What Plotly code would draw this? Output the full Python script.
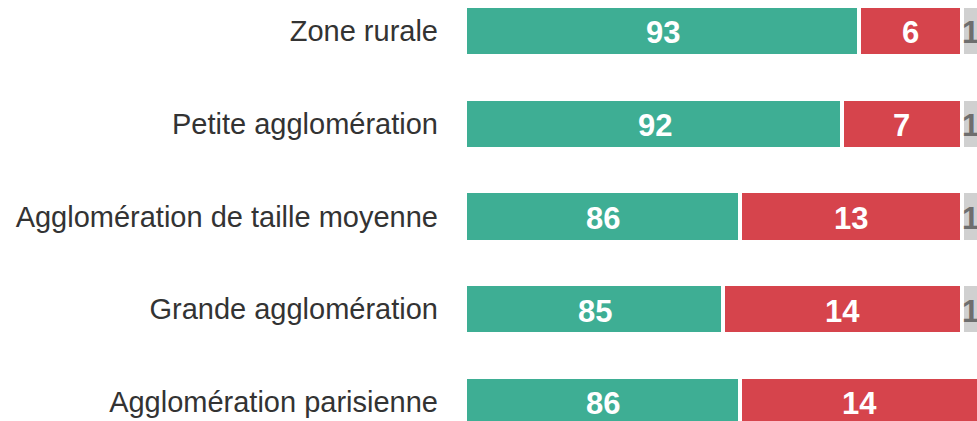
import plotly.graph_objects as go

# Data
categories = [
    "Zone rurale",
    "Petite agglomération",
    "Agglomération de taille moyenne",
    "Grande agglomération",
    "Agglomération parisienne",
]
favorable = [93, 92, 86, 85, 86]
defavorable = [6, 7, 13, 14, 14]
nsp = [1, 1, 1, 1, 0]

X_MIN, X_MAX = 70, 99.9

GREEN = "#3eae94"
RED = "#d6444c"
GREY = "#d0d0d0"
FONT = "Liberation Sans, Arial"

fig = go.Figure()

for vals, color in [(favorable, GREEN), (defavorable, RED), (nsp, GREY)]:
    fig.add_trace(go.Bar(
        y=categories,
        x=vals,
        orientation="h",
        marker=dict(color=color, line=dict(color="white", width=4)),
        width=0.54,
        hoverinfo="skip",
    ))

# value labels, centred on the visible part of each segment
green_pos = [(X_MIN + f) / 2 for f in favorable]
red_pos = [f + d / 2 for f, d in zip(favorable, defavorable)]
grey_pos = [f + d + n / 2 for f, d, n in zip(favorable, defavorable, nsp)]

for pos, vals, color in [
    (green_pos, favorable, "white"),
    (red_pos, defavorable, "white"),
    (grey_pos, nsp, "#6e6e6e"),
]:
    for cat, x, v in zip(categories, pos, vals):
        if not v:
            continue
        fig.add_annotation(
            x=x, y=cat,
            text=f"<b>{v}</b>",
            showarrow=False,
            xanchor="center",
            yanchor="middle",
            yshift=-2,
            font=dict(family=FONT, size=31, color=color),
        )

fig.update_layout(
    barmode="stack",
    width=977,
    height=421,
    margin=dict(l=467, r=0, t=0, b=0),
    paper_bgcolor="white",
    plot_bgcolor="white",
    showlegend=False,
    xaxis=dict(
        range=[X_MIN, X_MAX],
        visible=False,
        showgrid=False,
        zeroline=False,
    ),
    yaxis=dict(
        range=[4.205, -0.334],
        showgrid=False,
        zeroline=False,
        showline=False,
        ticks="",
        ticklabelstandoff=28,
        tickfont=dict(family=FONT, size=29, color="#333333"),
    ),
)

fig.write_html(
    "out.html",
    config={"displayModeBar": False},
    post_script="document.body.style.margin='0';",
)
